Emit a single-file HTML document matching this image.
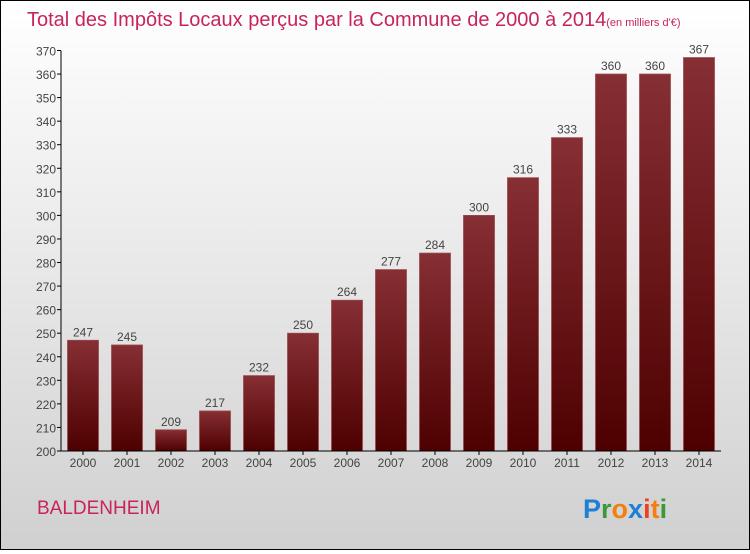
<!DOCTYPE html>
<html><head><meta charset="utf-8"><style>
body{margin:0;}
#c{width:748px;height:548px;border:1px solid #000;background:linear-gradient(#fff,#d0d0d0);position:relative;font-family:"Liberation Sans",sans-serif;}
</style></head><body>
<div id="c">
<svg width="748" height="548" id="svg">
<defs><linearGradient id="bg" x1="0" y1="0" x2="0" y2="1"><stop offset="0" stop-color="#862f34"/><stop offset="1" stop-color="#4e0000"/></linearGradient></defs>
<text x="26" y="25" font-size="20" fill="#c8245a">Total des Impôts Locaux perçus par la Commune de 2000 à 2014<tspan font-size="11">(en milliers d'€)</tspan></text>
<text x="36" y="513" font-size="19" fill="#c8245a">BALDENHEIM</text>
<g font-size="27" font-weight="bold" font-family="Liberation Sans,sans-serif"><text x="582" y="517"><tspan fill="#1e7fd6">P</tspan><tspan fill="#3a9a3a">r</tspan><tspan fill="#f08010">o</tspan><tspan fill="#1e7fd6">x</tspan><tspan fill="#f0401a">i</tspan><tspan fill="#f08010">t</tspan><tspan fill="#3a9a3a">i</tspan></text></g>
<g id="plot"></g>
</svg></div>
<script>
const years=["2000","2001","2002","2003","2004","2005","2006","2007","2008","2009","2010","2011","2012","2013","2014"];
const values=[247,245,209,217,232,250,264,277,284,300,316,333,360,360,367];
const yTicks=[200,210,220,230,240,250,260,270,280,290,300,310,320,330,340,350,360,370];
const NS="http://www.w3.org/2000/svg",g=document.getElementById('plot');
const y=v=>450-(v-200)*2.356, x=i=>82+i*44;
function el(t,a,txt){const e=document.createElementNS(NS,t);for(const k in a)e.setAttribute(k,a[k]);if(txt!=null)e.textContent=txt;g.appendChild(e);return e;}
yTicks.forEach(t=>{
 const l=el('line',{x1:56,x2:60,y1:y(t),y2:y(t),stroke:'#000'});
 
 
 const s=el('text',{x:55,y:y(t)+5,'text-anchor':'end','font-size':12,fill:'#444'},t);
 
 
});
values.forEach((v,i)=>{
 const r=el('rect',{x:x(i)-15.5,y:y(v),width:31,height:450-y(v),fill:'url(#bg)',stroke:'#9a4a50','stroke-width':0.8});
 
 
 const t=el('text',{x:x(i),y:y(v)-4,'text-anchor':'middle','font-size':12,fill:'#444'},v);
 
 
 const k=el('line',{x1:x(i),x2:x(i),y1:450,y2:454,stroke:'#000'});
 
 
 const yl=el('text',{x:x(i),y:466,'text-anchor':'middle','font-size':12,fill:'#444'},years[i]);
 
 
});
const ya=el('line',{x1:60,x2:60,y1:y(370),y2:450,stroke:'#000'});


const xa=el('line',{x1:58,x2:720,y1:450,y2:450,stroke:'#000'});


</script>
</body></html>
